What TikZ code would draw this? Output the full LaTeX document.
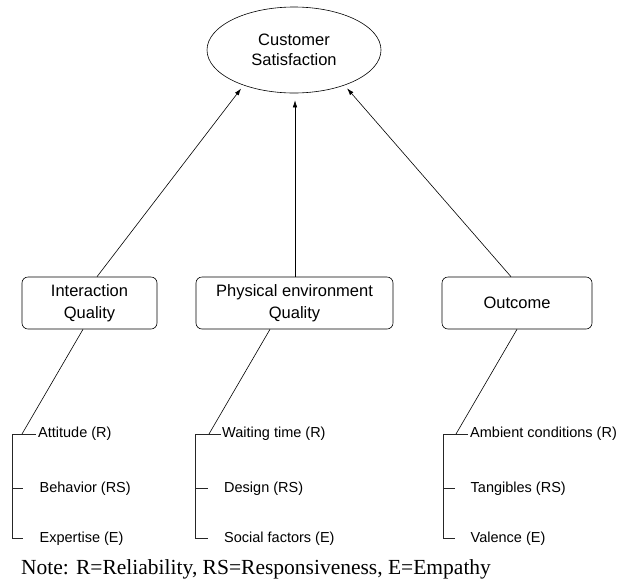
\documentclass[tikz,border=0pt]{standalone}
\usepackage{fontspec}
\setmainfont{Liberation Serif}
\newfontfamily\arialf{Liberation Sans}
\usetikzlibrary{arrows.meta,shapes.geometric}
\begin{document}
\begin{tikzpicture}[x=1pt,y=-1pt,
  line/.style={line width=0.6pt, draw=black},
  arr/.style={line, -{Latex[length=7pt,width=4.5pt]}},
  box/.style={draw, line width=0.6pt, rounded corners=6pt, minimum height=52pt,
    inner sep=0pt, align=center, font=\arialf\fontsize{16.5}{21.7}\selectfont},
  oval/.style={draw, ellipse, line width=0.6pt, minimum width=174pt, minimum height=86pt,
    inner sep=0pt, align=center, font=\arialf\fontsize{16.5}{20}\selectfont},
  item/.style={anchor=base west, inner sep=0pt, font=\arialf\fontsize{14.5}{17}\selectfont},
  brk/.style={line width=0.7pt, draw=black!85},
]
\useasboundingbox (0,0) rectangle (620,584);

% top ellipse
\node[oval] (cs) at (294,50) {Customer\\Satisfaction};

% boxes
\node[box, minimum width=135pt] (iq) at (89.5,303) {Interaction\\Quality};
\node[box, minimum width=197pt] (pe) at (294.5,303) {Physical environment\\Quality};
\node[box, minimum width=150pt] (oc) at (517,303) {Outcome};

% arrows to satisfaction
\draw[arr, shorten >=4pt] ([xshift=7.5pt]iq.north) -- (cs.215.6);
\draw[arr, shorten >=7pt] ([xshift=0.5pt]pe.north) -- ([xshift=1pt]cs.south);
\draw[arr, shorten >=4pt] ([xshift=-6pt]oc.north) -- (cs.325.6);

% bracket coordinates
\coordinate (a0) at (22,434);
\coordinate (at) at (12,434);
\coordinate (am) at (12,488);
\coordinate (ab) at (12,538);
\coordinate (b0) at (209,434);
\coordinate (bt) at (195,434);
\coordinate (bm) at (195,488);
\coordinate (bb) at (195,538);
\coordinate (c0) at (456,434);
\coordinate (ct) at (443,434);
\coordinate (cm) at (443,488);
\coordinate (cb) at (443,538);

% items
\node[item] (a1) at (38,437) {Attitude (R)};
\node[item] (a2) at (39.5,492) {Behavior (RS)};
\node[item] (a3) at (39.5,542) {Expertise (E)};
\node[item] (b1) at (222,437) {Waiting time (R)};
\node[item] (b2) at (224,492) {Design (RS)};
\node[item] (b3) at (224,542) {Social factors (E)};
\node[item] (c1) at (470,437) {Ambient conditions (R)};
\node[item] (c2) at (470.5,492) {Tangibles (RS)};
\node[item] (c3) at (470.5,542) {Valence (E)};

% lines from boxes to brackets
\draw[line] ([xshift=-6.5pt]iq.south) -- (a0);
\draw[line] ([xshift=-24.5pt]pe.south) -- (b0);
\draw[line] (oc.south) -- (c0);

% brackets
\draw[brk] (at) -- (ab);
\draw[brk] (at) -- ([xshift=-2pt]at -| a1.west);
\draw[brk] (am) -- ++(11,0);
\draw[brk] (ab) -- ++(11,0);
\draw[brk] (bt) -- (bb);
\draw[brk] (bt) -- ([xshift=-1.5pt]bt -| b1.west);
\draw[brk] (bm) -- ++(13,0);
\draw[brk] (bb) -- ++(13,0);
\draw[brk] (ct) -- (cb);
\draw[brk] (ct) -- ([xshift=-2pt]ct -| c1.west);
\draw[brk] (cm) -- ++(12,0);
\draw[brk] (cb) -- ++(12,0);

% note
\node[anchor=base west, inner sep=0pt, font=\fontsize{21.5}{24}\selectfont] (note) at (21,574.5)
  {Note: R=Reliability, RS=Responsiveness, E=Empathy};
\end{tikzpicture}
\end{document}
